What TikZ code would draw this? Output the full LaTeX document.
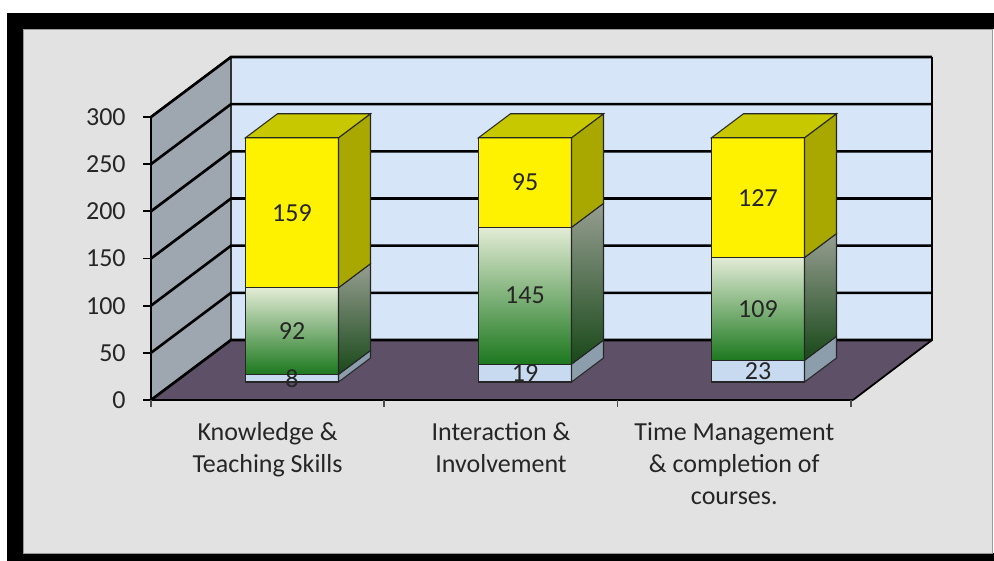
\documentclass[tikz,border=0pt]{standalone}
\usepackage{fontspec}
\setmainfont{Carlito}
\usepackage{xcolor}
\definecolor{panel}{RGB}{226,226,226}
\definecolor{back wall}{RGB}{214,229,247}
\definecolor{side wall}{RGB}{158,166,176}
\definecolor{floor}{RGB}{93,80,103}
\definecolor{low front}{RGB}{200,218,240}
\definecolor{low side}{RGB}{140,158,172}
\definecolor{mid light}{RGB}{227,236,214}
\definecolor{mid green}{RGB}{128,176,104}
\definecolor{mid dark}{RGB}{28,120,30}
\definecolor{mid side top}{RGB}{150,158,145}
\definecolor{mid side bottom}{RGB}{24,72,24}
\definecolor{top side}{RGB}{168,168,0}
\definecolor{top lid}{RGB}{200,200,0}
\colorlet{label text}{black!85}
\def\wallfloor{(151,400) -- (853,400) -- (933,340) -- (231,340) -- cycle}
\def\wallleft{(151,400) -- (151,117) -- (231,57) -- (231,340) -- cycle}
\def\wallback{(231,57) rectangle (932,340)}
\tikzset{edge/.style={draw=black!85, line width=0.6pt},
    gridline/.style={black, line width=1.5pt},
    value/.style={inner sep=0pt, text=label text, font=\fontsize{14.8}{18.2}\selectfont},
    category/.style={value, align=center, anchor=north}}

\begin{document}
\begin{tikzpicture}[x=0.02cm, y=-0.02cm]
    \useasboundingbox (0,0) rectangle (994,561);
    \fill[black] (7,13) rectangle (994,561);
    \fill[panel, draw=black!40] (23,29) rectangle (992,553);
    \fill[white] (992.5,29) rectangle (994,553);
    \fill[back wall] \wallback;
    \fill[side wall] \wallleft;
    \fill[floor] \wallfloor;
    \draw[black!80, line width=0.8pt] (231,57) -- (231,340);
    \foreach \k in {0,...,6} {
        \draw[gridline] (151,{400-47.17*\k}) -- (231,{340-47.17*\k}) -- (932,{340-47.17*\k});
        \draw[black, line width=1pt] (143,{400-47.17*\k}) -- (151,{400-47.17*\k});
        \pgfmathtruncatemacro\tick{50*\k}
        \node[value, anchor=east] (y\tick) at (126,{400-47.17*\k}) {\tick};
    }
    \draw[black, line width=1pt] (932,57) -- (932,340) -- (853,400);
    \draw[black, line width=1pt] (231,57) -- (151,117) -- (151,400);
    \draw[black, line width=1.5pt] (151,400) -- (853,400);
    \foreach \x in {151,384.3,617.6,851} {
        \draw[black!70, line width=1pt] (\x,400) -- (\x,407);
    }
    \foreach \xl/\a/\b/\c/\nm in {245.5/8/92/159/kts, 478.5/19/145/95/ii, 711.5/23/109/127/tmc} {
        \pgfmathsetmacro\ya{382-0.943*\a}
        \pgfmathsetmacro\yb{382-0.943*(\a+\b)}
        \pgfmathsetmacro\yc{382-0.943*(\a+\b+\c)}
        \pgfmathsetmacro\xr{\xl+93}
        \path[edge, fill=low front] (\xl,382) rectangle (\xr,\ya);
        \path[edge, fill=low side] (\xr,382) -- ++(32,-24) -- ({\xr+32},{\ya-24}) -- (\xr,\ya) -- cycle;
        \path[edge, top color=mid light, middle color=mid green, bottom color=mid dark] (\xl,\ya) rectangle (\xr,\yb);
        \path[edge, top color=mid side top, bottom color=mid side bottom] (\xr,\ya) -- ++(32,-24) -- ({\xr+32},{\yb-24}) -- (\xr,\yb) -- cycle;
        \path[edge, fill=yellow] (\xl,\yb) rectangle (\xr,\yc);
        \path[edge, fill=top side] (\xr,\yb) -- ++(32,-24) -- ({\xr+32},{\yc-24}) -- (\xr,\yc) -- cycle;
        \path[edge, fill=top lid] (\xl,\yc) -- ++(32,-24) -- ++(93,0) -- (\xr,\yc) -- cycle;
        \node[value] (\nm-low) at ({\xl+46.5},{(382+\ya)/2}) {\a};
        \node[value] (\nm-mid) at ({\xl+46.5},{(\ya+\yb)/2}) {\b};
        \node[value] (\nm-top) at ({\xl+46.5},{(\yb+\yc)/2}) {\c};
    }
    \node[category] (kts) at (267.6,422) {Knowledge \&\\Teaching Skills};
    \node[category] (ii) at (501,422) {Interaction \&\\Involvement};
    \node[category] (tmc) at (734.3,422) {Time Management\\\& completion of\\courses.};
\end{tikzpicture}
\end{document}
